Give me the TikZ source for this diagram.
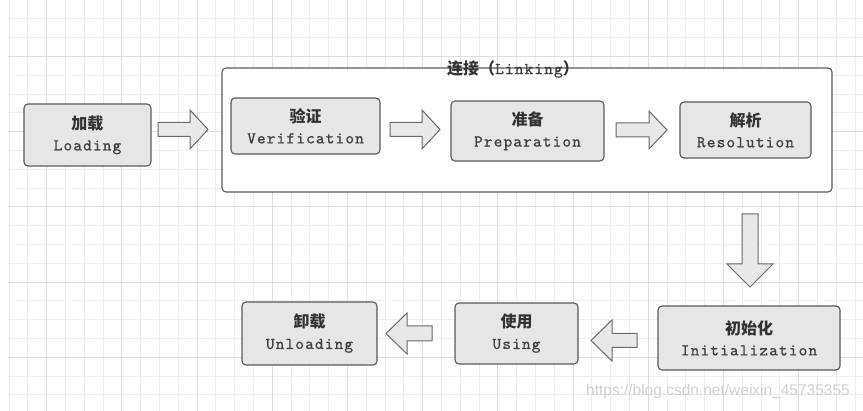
\documentclass[tikz,border=0pt]{standalone}
\usepackage{fontspec}
\usepackage{tikz}
\usetikzlibrary{calc}
\newfontfamily\zhfont{Noto Sans CJK SC}
\newfontfamily\monofont{lmmono10-regular}[Extension=.otf,LetterSpace=7,FakeBold=0.8]
\setsansfont{Liberation Sans}
\definecolor{gridminor}{HTML}{EEEEEE}
\definecolor{gridmajor}{HTML}{DEDEDE}
\definecolor{boxfill}{HTML}{E6E6E6}
\definecolor{boxline}{HTML}{5A5A5A}
\definecolor{arrowfill}{HTML}{E8E8E8}
\definecolor{arrowline}{HTML}{6A6A6A}
\definecolor{zhtext}{HTML}{333333}
\definecolor{entext}{HTML}{404040}
\definecolor{marktext}{HTML}{D0D0D0}

\newcommand{\stagetext}[2]{{\zhfont\bfseries\color{zhtext}#1}\\{\monofont\fontsize{16.5}{21}\selectfont\color{entext}#2}}

% start, end, shaft half, head half, head length
\newcommand{\blockarrow}[5]{%
  \coordinate (hb) at ($(#2)!#5!(#1)$);
  \draw[blockarr] ($(#1)!#3!90:(#2)$) -- ($(hb)!#3!90:(#2)$) -- ($(hb)!#4!90:(#2)$)
    -- (#2) -- ($(hb)!#4!-90:(#2)$) -- ($(hb)!#3!-90:(#2)$) -- ($(#1)!#3!-90:(#2)$) -- cycle;
}

\begin{document}
\begin{tikzpicture}[x=1pt,y=-1pt,
  stage/.style={draw=boxline,fill=boxfill,line width=1.1pt,rounded corners=4pt,
    align=center,inner sep=0pt,font=\fontsize{16}{21}\selectfont},
  blockarr/.style={draw=arrowline,fill=arrowfill,line width=1pt,line join=miter}]
  \useasboundingbox (0,0) rectangle (863,411);
  \fill[white] (0,0) rectangle (863,411);

  % background grid
  \foreach \k in {0,...,45}
    \draw[gridminor,line width=0.8pt] (9+18.8*\k,0) -- (9+18.8*\k,411);
  \foreach \k in {1,...,21}
    \draw[gridminor,line width=0.8pt] (8,18.8*\k) -- (863,18.8*\k);
  \foreach \k in {2,6,...,42}
    \draw[gridmajor,line width=0.9pt] (9+18.8*\k,0) -- (9+18.8*\k,411);
  \foreach \k in {3,7,...,19}
    \draw[gridmajor,line width=0.9pt] (8,18.8*\k) -- (863,18.8*\k);

  % linking frame
  \node[draw=boxline,fill=white,line width=1.1pt,rounded corners=4pt,
    minimum width=610pt,minimum height=124pt] (link) at (527,130) {};
  \node[font=\fontsize{16}{20}\selectfont] (linktitle) at (513,69)
    {{\zhfont\bfseries\color{zhtext}连接（}{\monofont\fontsize{16.5}{20}\selectfont\color{entext}Linking}{\zhfont\bfseries\color{zhtext}）}};

  % stages
  \node[stage,minimum width=127pt,minimum height=62pt] (load) at (87.5,135) {\stagetext{加载}{Loading}};
  \node[stage,minimum width=149pt,minimum height=56pt] (verif) at (305.5,126) {\stagetext{验证}{Verification}};
  \node[stage,minimum width=153pt,minimum height=60pt] (prep) at (527.5,131) {\stagetext{准备}{Preparation}};
  \node[stage,minimum width=131pt,minimum height=56pt] (resol) at (745.5,130) {\stagetext{解析}{Resolution}};
  \node[stage,minimum width=182pt,minimum height=64pt] (init) at (749,338) {\stagetext{初始化}{Initialization}};
  \node[stage,minimum width=123pt,minimum height=61pt] (using) at (516.5,333.5) {\stagetext{使用}{Using}};
  \node[stage,minimum width=135pt,minimum height=63pt] (unload) at (309.5,333.5) {\stagetext{卸载}{Unloading}};

  % arrow ends
  \coordinate (a1s) at (158,129.5);   \coordinate (a1e) at (208,129.5);
  \coordinate (a2s) at (390,129.5);   \coordinate (a2e) at (440,129.5);
  \coordinate (a3s) at (616,130);     \coordinate (a3e) at (667,130);
  \coordinate (a4s) at (750,214);     \coordinate (a4e) at (750,287);
  \coordinate (a5s) at (637,340.5);   \coordinate (a5e) at (591,340.5);
  \coordinate (a6s) at (432,333.5);   \coordinate (a6e) at (386,333.5);

  \blockarrow{a1s}{a1e}{7pt}{19.5pt}{18pt}
  \blockarrow{a2s}{a2e}{7pt}{19.5pt}{18pt}
  \blockarrow{a3s}{a3e}{7pt}{19pt}{18pt}
  \blockarrow{a4s}{a4e}{8pt}{23pt}{23pt}
  \blockarrow{a5s}{a5e}{7pt}{20.5pt}{21pt}
  \blockarrow{a6s}{a6e}{7.5pt}{20.5pt}{21pt}

  \node[text=marktext,font=\sffamily\fontsize{15.5}{15.5}\selectfont] (mark) at (718,391)
    {https://blog.csdn.net/weixin\_45735355};
\end{tikzpicture}
\end{document}
